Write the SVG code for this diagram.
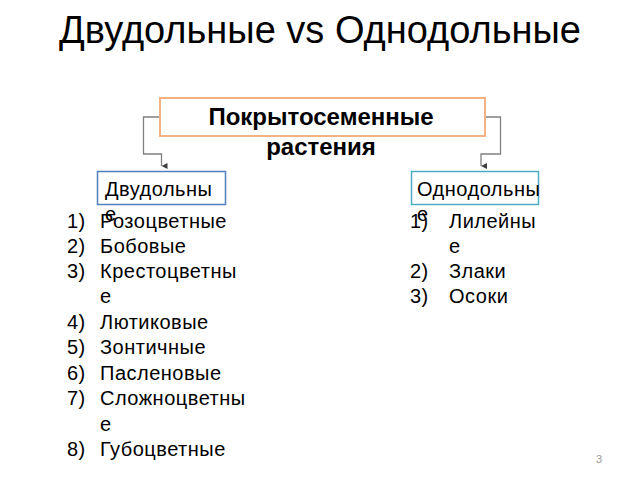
<svg xmlns="http://www.w3.org/2000/svg" width="640" height="480" viewBox="0 0 640 480">
<defs>
<marker id="arr" viewBox="0 0 6 6" refX="3" refY="6" markerWidth="6" markerHeight="6" orient="auto-start-reverse" markerUnits="userSpaceOnUse">
<path d="M0,0 L6,0 L3,6 Z" fill="#404040"/>
</marker>
<style>
text{font-family:"Liberation Sans",Arial,sans-serif;fill:#000}
.t{font-size:38px}
.h{font-size:24px;font-weight:bold}
.n{font-size:20px;letter-spacing:0.5px}
.conn{fill:none;stroke:#808080;stroke-width:1.3}
</style>
</defs>
<rect width="640" height="480" fill="#fff"/>
<text class="t" x="320" y="43" text-anchor="middle">Двудольные vs Однодольные</text>
<g id="connectors">
<path class="conn" d="M160,117 H143.5 V154 H161.5 V166" marker-end="url(#arr)"/>
<path class="conn" d="M485,117 H500.5 V154 H481 V166" marker-end="url(#arr)"/>
</g>
<g id="root">
<rect x="160" y="98" width="325" height="38" fill="#fff" stroke="#F4B183" stroke-width="2"/>
<text class="h" x="321" y="125" text-anchor="middle">Покрытосеменные</text>
<text class="h" x="321" y="155" text-anchor="middle">растения</text>
</g>
<g id="dicots">
<rect x="97.5" y="171.5" width="128" height="33" fill="#fff" stroke="#4F81BD" stroke-width="1.5"/>
<text class="n" x="105" y="196">Двудольны</text>
<text class="n" x="105" y="221">е</text>
</g>
<g id="monocots">
<rect x="411.5" y="171.5" width="127" height="33" fill="#fff" stroke="#4BACC6" stroke-width="1.5"/>
<text class="n" x="417" y="196">Однодольны</text>
<text class="n" x="417" y="221">е</text>
</g>
<g id="dicot-list">
<text class="n" x="67" y="228">1)</text><text class="n" x="100" y="228">Розоцветные</text>
<text class="n" x="67" y="253">2)</text><text class="n" x="100" y="253">Бобовые</text>
<text class="n" x="67" y="278">3)</text><text class="n" x="100" y="278">Крестоцветны</text>
<text class="n" x="100" y="303">е</text>
<text class="n" x="67" y="329">4)</text><text class="n" x="100" y="329">Лютиковые</text>
<text class="n" x="67" y="354">5)</text><text class="n" x="100" y="354">Зонтичные</text>
<text class="n" x="67" y="380">6)</text><text class="n" x="100" y="380">Пасленовые</text>
<text class="n" x="67" y="405">7)</text><text class="n" x="100" y="405">Сложноцветны</text>
<text class="n" x="100" y="431">е</text>
<text class="n" x="67" y="456">8)</text><text class="n" x="100" y="456">Губоцветные</text>
</g>
<g id="monocot-list">
<text class="n" x="410" y="228">1)</text><text class="n" x="449" y="228">Лилейны</text>
<text class="n" x="449" y="253">е</text>
<text class="n" x="410" y="278">2)</text><text class="n" x="449" y="278">Злаки</text>
<text class="n" x="410" y="303">3)</text><text class="n" x="449" y="303">Осоки</text>
</g>
<text x="596" y="463" style="font-size:11px;fill:#999">3</text>
</svg>
